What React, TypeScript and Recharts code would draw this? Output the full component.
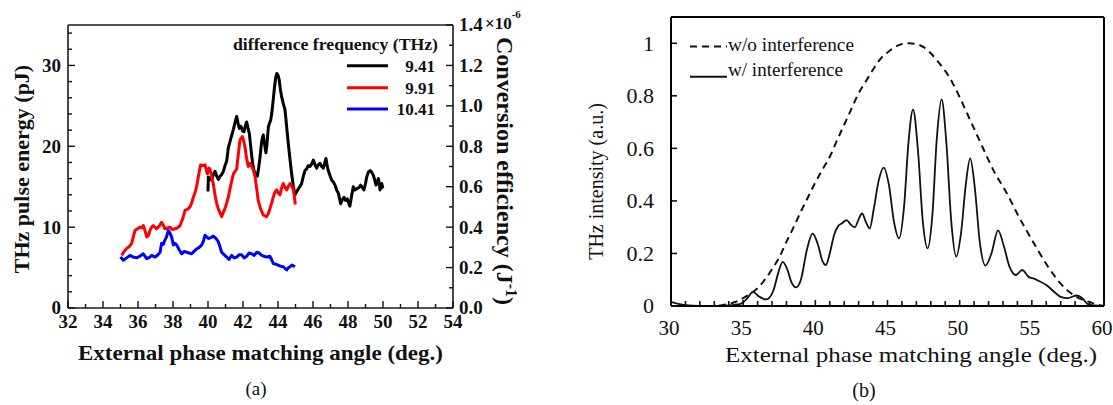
import React from 'react';
import { LineChart, Line, XAxis, YAxis } from 'recharts';

const SERIF = '"Liberation Serif", "Times New Roman", Times, serif';

// ---------------- Panel (a) data ----------------
const angle941 = [
  40.0, 40.02, 40.12, 40.21, 40.3, 40.4, 40.5, 40.59, 40.69, 40.78,
  40.88, 40.97, 41.07, 41.16, 41.26, 41.35, 41.45, 41.55, 41.64, 41.72,
  41.79, 41.85, 41.9, 41.98, 42.06, 42.13, 42.21, 42.28, 42.36, 42.43,
  42.5, 42.57, 42.63, 42.72, 42.82, 42.9, 42.97, 43.05, 43.1, 43.16,
  43.23, 43.31, 43.38, 43.45, 43.52, 43.58, 43.65, 43.73, 43.8, 43.87,
  43.93, 44.0, 44.07, 44.14, 44.21, 44.3, 44.4, 44.47, 44.53, 44.6,
  44.69, 44.78, 44.88, 44.97, 45.07, 45.15, 45.25, 45.35, 45.45, 45.54,
  45.64, 45.73, 45.83, 45.92, 46.02, 46.1, 46.21, 46.3, 46.4, 46.5,
  46.59, 46.67, 46.74, 46.8, 46.87, 46.97, 47.07, 47.16, 47.26, 47.35,
  47.45, 47.52, 47.58, 47.68, 47.77, 47.87, 47.96, 48.04, 48.11, 48.2,
  48.3, 48.4, 48.53, 48.62, 48.72, 48.82, 48.91, 49.0, 49.07, 49.16,
  49.26, 49.35, 49.45, 49.53, 49.6, 49.67, 49.74, 49.8, 49.83, 49.88,
  49.93, 49.98, 50.02,
];
const energy941 = [
  14.4, 16.2, 16.0, 15.8, 16.5, 16.9, 16.3, 15.9, 16.3, 16.5,
  16.9, 17.6, 18.2, 19.8, 20.6, 21.3, 22.1, 23.0, 23.7, 22.8,
  22.2, 22.5, 22.4, 21.9, 21.8, 22.5, 23.0, 22.3, 21.6, 20.2,
  18.8, 17.6, 17.0, 16.5, 16.3, 17.4, 18.6, 20.3, 21.0, 21.4,
  20.3, 19.2, 20.5, 22.4, 22.9, 23.2, 24.2, 25.8, 27.3, 28.5,
  29.0, 28.8, 28.2, 27.0, 26.1, 25.3, 24.5, 23.0, 21.6, 20.1,
  18.3, 16.6, 15.0, 14.0, 14.4, 14.7, 15.0, 15.4, 16.3, 17.0,
  17.2, 17.6, 17.5, 17.8, 18.3, 17.8, 17.3, 17.7, 17.9, 17.5,
  17.3, 17.9, 18.5, 17.7, 17.0, 16.4, 15.8, 15.6, 15.2, 14.6,
  14.2, 13.5, 12.9, 13.4, 13.7, 13.3, 13.5, 13.0, 12.6, 13.8,
  15.0, 14.6, 14.8, 14.9, 15.2, 14.9, 14.6, 15.4, 16.2, 16.8,
  17.0, 16.8, 16.4, 15.8, 15.2, 15.6, 16.0, 15.2, 14.6, 15.1,
  15.4, 14.9, 14.8,
];

const angle991 = [
  35.07, 35.2, 35.35, 35.5, 35.64, 35.73, 35.83, 35.97, 36.11, 36.2,
  36.3, 36.4, 36.5, 36.6, 36.68, 36.78, 36.87, 36.97, 37.06, 37.2,
  37.35, 37.45, 37.54, 37.68, 37.83, 37.97, 38.11, 38.25, 38.4, 38.55,
  38.69, 38.83, 38.97, 39.07, 39.16, 39.25, 39.35, 39.45, 39.58, 39.7,
  39.83, 39.96, 40.05, 40.11, 40.2, 40.3, 40.4, 40.5, 40.6, 40.7,
  40.78, 40.87, 40.97, 41.07, 41.16, 41.3, 41.45, 41.55, 41.64, 41.73,
  41.83, 41.96, 42.05, 42.11, 42.2, 42.3, 42.4, 42.5, 42.6, 42.69,
  42.78, 42.87, 43.0, 43.16, 43.25, 43.35, 43.45, 43.54, 43.64, 43.73,
  43.82, 43.92, 44.02, 44.11, 44.2, 44.3, 44.4, 44.5, 44.6, 44.69,
  44.8, 44.88, 44.95, 44.99,
];
const energy991 = [
  6.5, 7.0, 7.35, 7.6, 8.0, 8.8, 9.6, 9.8, 10.0, 9.9,
  10.2, 9.6, 8.8, 9.0, 9.6, 10.0, 10.2, 10.0, 9.8, 10.1,
  10.6, 10.2, 9.8, 9.9, 10.0, 9.7, 9.8, 9.9, 10.2, 11.0,
  12.1, 12.2, 12.5, 13.0, 13.7, 14.2, 15.0, 16.3, 17.7, 17.6,
  17.7, 16.6, 17.3, 17.2, 16.4, 15.4, 14.0, 12.9, 12.2, 11.7,
  11.3, 11.8, 12.3, 13.0, 13.7, 15.2, 16.6, 16.9, 17.2, 19.0,
  20.8, 21.2, 20.6, 19.9, 18.6, 17.5, 17.9, 17.5, 17.0, 16.2,
  14.8, 13.3, 12.3, 11.5, 11.4, 11.3, 11.7, 12.3, 13.0, 13.7,
  14.3, 14.6, 14.2, 14.0, 14.8, 15.4, 14.9, 14.6, 15.1, 15.4,
  15.0, 14.6, 13.5, 12.8,
];

const angle1041 = [
  35.0, 35.16, 35.35, 35.54, 35.73, 35.92, 36.1, 36.3, 36.5, 36.68,
  36.78, 36.97, 37.1, 37.26, 37.35, 37.45, 37.54, 37.63, 37.73, 37.82,
  37.92, 38.02, 38.11, 38.21, 38.35, 38.5, 38.64, 38.78, 38.92, 39.07,
  39.2, 39.35, 39.5, 39.64, 39.73, 39.83, 39.92, 40.02, 40.16, 40.3,
  40.45, 40.59, 40.68, 40.78, 40.92, 41.07, 41.2, 41.35, 41.5, 41.64,
  41.78, 41.92, 42.06, 42.21, 42.35, 42.5, 42.64, 42.78, 42.92, 43.07,
  43.2, 43.35, 43.54, 43.63, 43.73, 43.9, 44.11, 44.3, 44.5, 44.6,
  44.69, 44.8, 44.97,
];
const energy1041 = [
  6.3, 5.9, 6.2, 6.5, 6.3, 6.2, 6.4, 6.7, 6.1, 6.3,
  6.5, 6.3, 6.5, 6.9, 8.0, 7.9, 8.4, 8.8, 9.6, 9.3,
  8.8, 7.8, 8.0, 7.8, 7.2, 6.7, 7.0, 6.9, 6.8, 6.7,
  7.0, 7.3, 7.5, 7.8, 8.2, 9.0, 8.8, 8.6, 8.7, 8.9,
  8.6, 8.2, 7.6, 6.9, 6.6, 6.3, 6.0, 6.5, 6.2, 6.3,
  6.6, 6.6, 6.2, 6.4, 6.8, 6.7, 6.5, 6.9, 6.8, 6.5,
  6.4, 6.3, 6.4, 6.0, 5.5, 5.4, 5.2, 5.1, 4.7, 5.0,
  5.1, 5.3, 5.1,
];

const legendTitleA = 'difference frequency (THz)';
const freqLabels = ['9.41', '9.91', '10.41'];
const freqColors = ['#000000', '#ff0000', '#0000ff'];

const xTicksA = [32, 33, 34, 35, 36, 37, 38, 39, 40, 41, 42, 43, 44, 45, 46, 47, 48, 49, 50, 51, 52, 53, 54];
const yTicksEnergy = [0, 2, 4, 6, 8, 10, 12, 14, 16, 18, 20, 22, 24, 26, 28, 30, 32, 34];
const yTicksEfficiency = [0, 0.1, 0.2, 0.3, 0.4, 0.5, 0.6, 0.7, 0.8, 0.9, 1.0, 1.1, 1.2, 1.3, 1.4];

// ---------------- Panel (b) data ----------------
const angleWith = [
  30, 30.5, 31, 32, 33, 34, 34.8, 35.3, 35.67, 36.1,
  36.6, 37.1, 37.45, 37.74, 38.05, 38.35, 38.66, 39.0, 39.4, 39.81,
  40.2, 40.5, 40.73, 41.0, 41.3, 41.58, 41.85, 42.16, 42.45, 42.74,
  43.0, 43.24, 43.5, 43.77, 44.05, 44.4, 44.74, 45.1, 45.45, 45.8,
  46.15, 46.45, 46.77, 47.1, 47.45, 47.78, 48.1, 48.42, 48.75, 49.08,
  49.42, 49.76, 50.1, 50.42, 50.73, 51.05, 51.4, 51.78, 52.2, 52.66,
  53.05, 53.45, 53.9, 54.33, 54.8, 55.05, 55.5, 56.0, 56.67, 57.0,
  57.5, 58.1, 58.5, 58.85, 59.3, 60,
];
const intensityWith = [
  0.016, 0.008, 0.003, 0, 0, 0.002, 0.008, 0.03, 0.054, 0.036,
  0.025, 0.06, 0.13, 0.168, 0.14, 0.09, 0.071, 0.1, 0.21, 0.276,
  0.23, 0.17, 0.156, 0.2, 0.27, 0.304, 0.315, 0.327, 0.31, 0.3,
  0.33, 0.352, 0.32, 0.295, 0.37, 0.48, 0.527, 0.46, 0.32, 0.257,
  0.38, 0.62, 0.748, 0.6, 0.32, 0.219, 0.34, 0.64, 0.786, 0.62,
  0.32, 0.188, 0.28, 0.46, 0.562, 0.45, 0.24, 0.154, 0.2, 0.288,
  0.23, 0.15, 0.118, 0.137, 0.11, 0.106, 0.095, 0.08, 0.048, 0.035,
  0.03, 0.04, 0.03, 0.008, 0.002, 0,
];
const angleWithout = [
  30, 31, 32, 33, 33.5, 34, 34.5, 35, 35.5, 36,
  36.5, 37, 37.5, 38, 38.5, 39, 39.5, 40, 40.5, 41,
  41.5, 42, 42.5, 43, 43.5, 44, 44.5, 45, 45.5, 46,
  46.5, 47, 47.5, 48, 48.5, 49, 49.5, 50, 50.5, 51,
  51.5, 52, 52.5, 53, 53.5, 54, 54.5, 55, 55.5, 56,
  56.5, 57, 57.5, 58, 58.5, 59, 59.5, 60,
];
const intensityWithout = [
  0, 0, 0, 0, 0.003, 0.008, 0.016, 0.03, 0.047, 0.068,
  0.1, 0.14, 0.185, 0.245, 0.3, 0.36, 0.415, 0.47, 0.52, 0.568,
  0.63, 0.69, 0.75, 0.81, 0.855, 0.9, 0.94, 0.965, 0.985, 0.997,
  1.0, 0.997, 0.985, 0.962, 0.93, 0.895, 0.85, 0.795, 0.735, 0.675,
  0.615, 0.555, 0.5, 0.455, 0.405, 0.35, 0.3, 0.252, 0.205, 0.16,
  0.12, 0.085, 0.058, 0.038, 0.024, 0.015, 0.006, 0,
];
const legendLabelsB = ['w/o interference', 'w/ interference'];
const xTicksB = [30, 31, 32, 33, 34, 35, 36, 37, 38, 39, 40, 41, 42, 43, 44, 45, 46, 47, 48, 49, 50, 51, 52, 53, 54, 55, 56, 57, 58, 59, 60];
const yTicksB = [0, 0.2, 0.4, 0.6, 0.8, 1];

const toPoints = (xs: number[], ys: number[]) => {
  const n = Math.min(xs.length, ys.length);
  const out: { x: number; y: number }[] = [];
  for (let i = 0; i < n; i++) out.push({ x: xs[i], y: ys[i] });
  return out;
};

const seriesA = [
  { key: 's941', data: toPoints(angle941, energy941), color: freqColors[0] },
  { key: 's991', data: toPoints(angle991, energy991), color: freqColors[1] },
  { key: 's1041', data: toPoints(angle1041, energy1041), color: freqColors[2] },
];
const dataWith = toPoints(angleWith, intensityWith);
const dataWithout = toPoints(angleWithout, intensityWithout);

type Side = 'bottom' | 'top' | 'left' | 'right';
interface TickSpec {
  side: Side;
  major: (v: number) => boolean;
  fmt?: (v: number) => string;
  majorLen: number;
  minorLen: number;
  gap: number;
  fontSize: number;
  bold: boolean;
  stroke?: number;
  dx?: number;
}

const makeTick = (s: TickSpec) => (props: any) => {
  const { x, y, payload } = props;
  const v = Number(payload.value);
  const isMaj = s.major(v);
  const len = isMaj ? s.majorLen : s.minorLen;
  const ls = { stroke: '#111', strokeWidth: s.stroke ?? 1.4 };
  const tp: any = {
    fontFamily: SERIF,
    fontSize: s.fontSize,
    fontWeight: s.bold ? 700 : 400,
    fill: '#111',
  };
  const text = isMaj && s.fmt ? s.fmt(v) : '';
  const dx = s.dx ?? 0;
  let line: any = null;
  let label: any = null;
  if (s.side === 'bottom') {
    line = <line x1={x} y1={y} x2={x} y2={y - len} {...ls} />;
    if (text) label = <text x={x + dx} y={y + s.gap} textAnchor="middle" {...tp}>{text}</text>;
  } else if (s.side === 'top') {
    line = <line x1={x} y1={y} x2={x} y2={y + len} {...ls} />;
  } else if (s.side === 'left') {
    line = <line x1={x} y1={y} x2={x + len} y2={y} {...ls} />;
    if (text) label = <text x={x - s.gap} y={y + s.fontSize * 0.34} textAnchor="end" {...tp}>{text}</text>;
  } else {
    line = <line x1={x} y1={y} x2={x - len} y2={y} {...ls} />;
    if (text) label = <text x={x + s.gap} y={y + s.fontSize * 0.34} textAnchor="start" {...tp}>{text}</text>;
  }
  return (
    <g>
      {line}
      {label}
    </g>
  );
};

const isMult = (v: number, m: number) => Math.abs(v / m - Math.round(v / m)) < 1e-6;

const tickBottomA = makeTick({ side: 'bottom', major: (v) => isMult(v, 2), fmt: (v) => String(v), majorLen: 7, minorLen: 4, gap: 20, fontSize: 19, bold: true });
const tickTopA = makeTick({ side: 'top', major: (v) => isMult(v, 2), majorLen: 7, minorLen: 4, gap: 0, fontSize: 19, bold: true });
const tickLeftA = makeTick({ side: 'left', major: (v) => isMult(v, 10), fmt: (v) => String(v), majorLen: 7, minorLen: 4, gap: 7, fontSize: 19, bold: true });
const tickRightA = makeTick({ side: 'right', major: (v) => isMult(v, 0.2), fmt: (v) => v.toFixed(1), majorLen: 7, minorLen: 4, gap: 6, fontSize: 19, bold: true });

const tickBottomB = makeTick({ side: 'bottom', major: (v) => isMult(v, 5), fmt: (v) => String(v), majorLen: 6, minorLen: 5, gap: 29, fontSize: 21, bold: false, stroke: 1.6, dx: -2 });
const tickLeftB = makeTick({ side: 'left', major: () => true, fmt: (v) => String(v), majorLen: 6, minorLen: 6, gap: 17, fontSize: 22, bold: false, stroke: 1.6 });

const axisLineA = { stroke: '#1a1a1a', strokeWidth: 1.6 };
const axisLineB = { stroke: '#000', strokeWidth: 2 };

function PanelA() {
  return (
    <LineChart width={560} height={405} margin={{ top: 24, right: 47, bottom: 67, left: 8 }}>
      <XAxis xAxisId="b" dataKey="x" type="number" domain={[32, 54]} allowDataOverflow ticks={xTicksA} interval={0}
        tickSize={0} tickMargin={0} tickLine={false} tick={tickBottomA} axisLine={axisLineA} height={30} />
      <XAxis xAxisId="t" orientation="top" type="number" domain={[32, 54]} allowDataOverflow ticks={xTicksA} interval={0}
        tickSize={0} tickMargin={0} tickLine={false} tick={tickTopA} axisLine={axisLineA} height={1} />
      <YAxis yAxisId="l" type="number" domain={[0, 35]} allowDataOverflow ticks={yTicksEnergy} interval={0}
        tickSize={0} tickMargin={0} tickLine={false} tick={tickLeftA} axisLine={axisLineA} width={60} />
      <YAxis yAxisId="r" orientation="right" type="number" domain={[0, 1.4]} allowDataOverflow ticks={yTicksEfficiency} interval={0}
        tickSize={0} tickMargin={0} tickLine={false} tick={tickRightA} axisLine={axisLineA} width={60} />
      {seriesA.map((s) => (
        <Line key={s.key} xAxisId="b" yAxisId="l" data={s.data} dataKey="y" type="linear" stroke={s.color}
          strokeWidth={3} dot={false} activeDot={false} isAnimationActive={false} strokeLinejoin="round" />
      ))}
    </LineChart>
  );
}

function PanelB() {
  return (
    <LineChart width={553} height={405} margin={{ top: 16, right: 8, bottom: 69, left: 30 }}>
      <XAxis xAxisId="b" dataKey="x" type="number" domain={[30, 60]} allowDataOverflow ticks={xTicksB} interval={0}
        tickSize={0} tickMargin={0} tickLine={false} tick={tickBottomB} axisLine={axisLineB} height={30} />
      <XAxis xAxisId="t" orientation="top" type="number" domain={[30, 60]} tick={false} tickLine={false}
        axisLine={axisLineB} height={1} />
      <YAxis yAxisId="l" type="number" domain={[0, 1.1]} allowDataOverflow ticks={yTicksB} interval={0}
        tickSize={0} tickMargin={0} tickLine={false} tick={tickLeftB} axisLine={axisLineB} width={81} />
      <YAxis yAxisId="r" orientation="right" type="number" domain={[0, 1.1]} tick={false} tickLine={false}
        axisLine={axisLineB} width={1} />
      <Line xAxisId="b" yAxisId="l" data={dataWithout} dataKey="y" type="monotone" stroke="#111" strokeWidth={2}
        strokeDasharray="7 5" dot={false} activeDot={false} isAnimationActive={false} />
      <Line xAxisId="b" yAxisId="l" data={dataWith} dataKey="y" type="monotone" stroke="#111" strokeWidth={1.8}
        dot={false} activeDot={false} isAnimationActive={false} />
    </LineChart>
  );
}

function Overlay() {
  const bold = { fontFamily: SERIF, fontWeight: 700, fill: '#111' } as any;
  const reg = { fontFamily: SERIF, fontWeight: 400, fill: '#111' } as any;
  const legendYs = [65.7, 87.7, 109];
  return (
    <svg width={1113} height={405} style={{ position: 'absolute', left: 0, top: 0, pointerEvents: 'none' }}>
      {/* Panel (a) */}
      <text x={78} y={360} fontSize={22} textLength={365} lengthAdjust="spacingAndGlyphs" {...bold}>
        External phase matching angle (deg.)
      </text>
      <text transform="translate(29,169) rotate(-90)" textAnchor="middle" fontSize={22} {...bold}>
        THz pulse energy (pJ)
      </text>
      <text transform="translate(497,171) rotate(90)" textAnchor="middle" fontSize={24} {...bold}>
        Conversion efficiency (J<tspan dy={-9} fontSize={16}>-1</tspan><tspan dy={9}>)</tspan>
      </text>
      <text x={485} y={29} fontSize={17} {...bold}>
        ×10<tspan dy={-11} fontSize={11}>-6</tspan>
      </text>
      <text x={233} y={50} fontSize={16} textLength={205} lengthAdjust="spacingAndGlyphs" {...bold}>
        {legendTitleA}
      </text>
      {freqLabels.map((lab, i) => (
        <g key={lab}>
          <line x1={347} x2={388} y1={legendYs[i]} y2={legendYs[i]} stroke={freqColors[i]} strokeWidth={3} />
          <text x={435} y={legendYs[i] + 6} textAnchor="end" fontSize={17} {...bold}>{lab}</text>
        </g>
      ))}
      <text x={256} y={395} textAnchor="middle" fontSize={19} {...reg}>(a)</text>

      {/* Panel (b) */}
      <text x={725} y={362} fontSize={22} textLength={372} lengthAdjust="spacingAndGlyphs" {...reg}>
        External phase matching angle (deg.)
      </text>
      <text transform="translate(603,181.5) rotate(-90)" textAnchor="middle" fontSize={20} {...reg}>
        THz intensity (a.u.)
      </text>
      <line x1={690} x2={727} y1={46.5} y2={46.5} stroke="#111" strokeWidth={2} strokeDasharray="7 5" />
      <text x={728} y={51} fontSize={18} textLength={126} lengthAdjust="spacingAndGlyphs" {...reg}>{legendLabelsB[0]}</text>
      <line x1={690} x2={727} y1={76.7} y2={76.7} stroke="#111" strokeWidth={2} />
      <text x={728} y={76} fontSize={18} textLength={115} lengthAdjust="spacingAndGlyphs" {...reg}>{legendLabelsB[1]}</text>
      <text x={864} y={397} textAnchor="middle" fontSize={20} {...reg}>(b)</text>
    </svg>
  );
}

export default function App() {
  return (
    <div style={{ position: 'absolute', left: 0, top: 0, width: 1113, height: 405, background: '#fff', overflow: 'hidden' }}>
      <div style={{ position: 'absolute', left: 0, top: 0 }}>
        <PanelA />
      </div>
      <div style={{ position: 'absolute', left: 560, top: 0 }}>
        <PanelB />
      </div>
      <Overlay />
    </div>
  );
}
